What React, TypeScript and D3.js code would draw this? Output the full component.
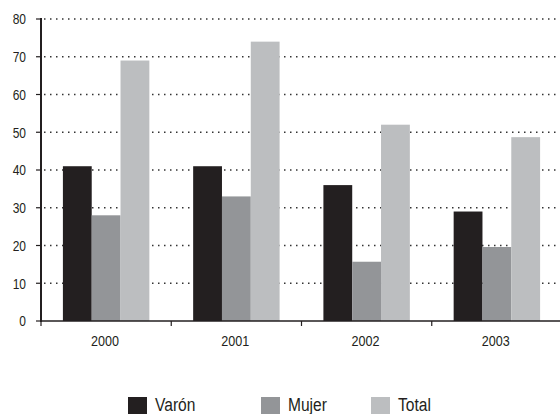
import React from "react";
import * as d3 from "d3";

const categories = ["2000", "2001", "2002", "2003"];
const seriesNames = ["Varón", "Mujer", "Total"];
const varon = [41, 41, 36, 29];
const mujer = [28, 33, 15.7, 19.6];
const total = [69, 74, 52, 48.7];
const yTicks = [0, 10, 20, 30, 40, 50, 60, 70, 80];
const colors = ["#231f20", "#939598", "#bcbec0"];

const W = 560;
const H = 414;
const FONT = "'Liberation Sans', Arial, sans-serif";
const SX = 0.82;

export default function App() {
  const series = [varon, mujer, total];
  const left = 41;
  const right = 562;
  const x0 = d3.scaleBand<string>().domain(categories).range([left, right]).padding(0);
  const x1 = d3
    .scaleBand<string>()
    .domain(seriesNames)
    .range([0, x0.bandwidth()])
    .paddingInner(0)
    .paddingOuter(0.76);
  const y = d3.scaleLinear().domain([0, 80]).range([321, 19]);

  const legendX = [128, 261, 371];

  return (
    <svg
      width={W}
      height={H}
      style={{ position: "absolute", left: 0, top: 0, background: "#fff" }}
      fontFamily={FONT}
    >
      {/* gridlines */}
      {yTicks
        .filter((t) => t > 0)
        .map((t) => (
          <line
            key={"g" + t}
            x1={44}
            x2={558}
            y1={y(t)}
            y2={y(t)}
            stroke="#333"
            strokeWidth={1.3}
            strokeDasharray="1.5 4.5"
          />
        ))}
      {/* bars */}
      {categories.map((c, i) => (
        <g key={c} transform={`translate(${x0(c)},0)`}>
          {seriesNames.map((s, j) => (
            <rect
              key={s}
              x={x1(s)}
              y={y(series[j][i])}
              width={x1.bandwidth()}
              height={y(0) - y(series[j][i])}
              fill={colors[j]}
            />
          ))}
        </g>
      ))}
      {/* y axis */}
      <line x1={left} x2={left} y1={y(80) - 1} y2={y(0) + 1} stroke="#231f20" strokeWidth={2} />
      {yTicks.map((t) => (
        <g key={"y" + t}>
          <line x1={36} x2={left} y1={y(t)} y2={y(t)} stroke="#231f20" strokeWidth={1.2} />
          <text
            transform={`translate(26,${y(t)}) scale(0.8,1)`}
            dy="0.35em"
            textAnchor="end"
            fontSize={15}
            fill="#231f20"
          >
            {t}
          </text>
        </g>
      ))}
      {/* x axis */}
      <line x1={left} x2={W} y1={y(0)} y2={y(0)} stroke="#231f20" strokeWidth={1.5} />
      {categories.map((c) => (
        <g key={"x" + c}>
          <line
            x1={x0(c)!}
            x2={x0(c)!}
            y1={y(0)}
            y2={y(0) + 5}
            stroke="#231f20"
            strokeWidth={1.2}
          />
          <text
            transform={`translate(${x0(c)! + x0.bandwidth() / 2 - 1},346) scale(0.84,1)`}
            textAnchor="middle"
            fontSize={15}
            fill="#231f20"
          >
            {c}
          </text>
        </g>
      ))}
      {/* legend */}
      {seriesNames.map((s, j) => (
        <g key={"l" + s}>
          <rect x={legendX[j]} y={397} width={19} height={19} fill={colors[j]} />
          <text
            transform={`translate(${legendX[j] + 27},411) scale(${SX},1)`}
            fontSize={19}
            fill="#231f20"
          >
            {s}
          </text>
        </g>
      ))}
    </svg>
  );
}
